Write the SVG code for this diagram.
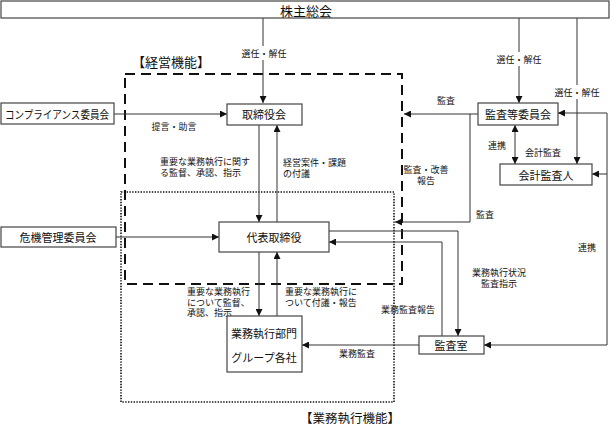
<svg xmlns="http://www.w3.org/2000/svg" width="611" height="426" viewBox="0 0 611 426">
<style>
text{font-family:"Noto Sans CJK JP","Noto Sans",sans-serif;fill:#111;}
.node rect{fill:#fff;stroke:#444;stroke-width:1.2;}
.nt{font-size:11px;text-anchor:middle;dominant-baseline:central;}
.lb{font-size:9px;dominant-baseline:central;}
.c{text-anchor:middle;}
.conn line,.conn polyline{stroke:#333;stroke-width:1;fill:none;}
.arr{marker-end:url(#ah);}
.bg{fill:#fff;stroke:none;}
</style>
<defs>
<marker id="ah" viewBox="0 0 10 10" refX="10" refY="5" markerWidth="7" markerHeight="7" markerUnits="userSpaceOnUse" orient="auto"><path d="M0,0 L10,5 L0,10 z" fill="#111"/></marker>
<marker id="ahs" viewBox="0 0 10 10" refX="10" refY="5" markerWidth="7" markerHeight="7" markerUnits="userSpaceOnUse" orient="auto-start-reverse"><path d="M0,0 L10,5 L0,10 z" fill="#111"/></marker>
</defs>
<rect width="611" height="426" fill="#fff"/>

<!-- function areas -->
<g id="keiei-area">
<rect x="125" y="74" width="277" height="210" fill="none" stroke="#111" stroke-width="2" stroke-dasharray="10 6"/>
<text x="171" y="61" style="font-size:13px;text-anchor:middle;dominant-baseline:central;">【経営機能】</text>
</g>
<g id="gyomu-area">
<rect x="121" y="192" width="273" height="210" fill="none" stroke="#111" stroke-width="1.6" stroke-dasharray="1.4 1.4"/>
<text x="350" y="417" style="font-size:12.5px;text-anchor:middle;dominant-baseline:central;">【業務執行機能】</text>
</g>

<g class="conn" id="connectors">
<line class="arr" x1="263" y1="18" x2="263" y2="103"/>
<line class="arr" x1="519" y1="18" x2="519" y2="103"/>
<line class="arr" x1="577" y1="18" x2="577" y2="164"/>
<line class="arr" x1="114" y1="114" x2="227" y2="114"/>
<line class="arr" x1="116" y1="237" x2="219" y2="237"/>
<line class="arr" x1="259" y1="125" x2="259" y2="222"/>
<line class="arr" x1="277" y1="222" x2="277" y2="125"/>
<line class="arr" x1="259" y1="252" x2="259" y2="316"/>
<line class="arr" x1="277" y1="316" x2="277" y2="252"/>
<line class="arr" x1="478" y1="114" x2="404" y2="114"/>
<polyline class="arr" points="470,114 470,222 395,222"/>
<line x1="515" y1="125" x2="515" y2="164" style="marker-start:url(#ahs);marker-end:url(#ahs)"/>
<polyline class="arr" points="329,231 458,231 458,336"/>
<polyline class="arr" points="442,336 442,242 329,242"/>
<line class="arr" x1="419" y1="345" x2="302" y2="345"/>
<line x1="607" y1="113" x2="607" y2="345"/>
<line class="arr" x1="607" y1="113" x2="558" y2="113"/>
<line class="arr" x1="607" y1="174" x2="592" y2="174"/>
<line class="arr" x1="607" y1="345" x2="484" y2="345"/>

<rect class="bg" x="240" y="46" width="48" height="14"/>
<text class="lb c" x="264" y="53">選任・解任</text>
<rect class="bg" x="495" y="52" width="48" height="14"/>
<text class="lb c" x="519" y="59">選任・解任</text>
<rect class="bg" x="553" y="85" width="48" height="14"/>
<text class="lb c" x="577" y="92">選任・解任</text>
<text class="lb c" x="174" y="126">提言・助言</text>
<text class="lb" x="160" y="161">重要な業務執行に関す<tspan x="160" dy="11">る監督、承認、指示</tspan></text>
<text class="lb" x="283" y="162">経営案件・課題<tspan x="283" dy="11">の付議</tspan></text>
<text class="lb" x="187" y="291">重要な業務執行<tspan x="187" dy="10.5">について監督、</tspan><tspan x="187" dy="10.5">承認、指示</tspan></text>
<text class="lb" x="285" y="291">重要な業務執行に<tspan x="285" dy="10.5">ついて付議・報告</tspan></text>
<text class="lb c" x="446" y="100">監査</text>
<text class="lb c" x="426" y="169">監査・改善<tspan x="426" dy="11">報告</tspan></text>
<text class="lb c" x="485" y="214">監査</text>
<text class="lb c" x="497" y="145">連携</text>
<text class="lb c" x="543" y="152">会計監査</text>
<text class="lb c" x="587" y="247">連携</text>
<text class="lb c" x="499" y="272">業務執行状況<tspan x="499" dy="11">監査指示</tspan></text>
<text class="lb c" x="408" y="309">業務監査報告</text>
<text class="lb c" x="357" y="353">業務監査</text>
</g>

<g class="node" id="kabunushi-sokai">
<rect x="1" y="1" width="608" height="17"/>
<text class="nt" x="306" y="10" style="font-size:13px">株主総会</text>
</g>
<g class="node" id="torishimariyakukai">
<rect x="227" y="104" width="75" height="21"/>
<text class="nt" x="264" y="114">取締役会</text>
</g>
<g class="node" id="compliance">
<rect x="1" y="103" width="113" height="21"/>
<text class="nt" x="57" y="114" textLength="104" lengthAdjust="spacingAndGlyphs">コンプライアンス委員会</text>
</g>
<g class="node" id="kansatou">
<rect x="478" y="103" width="80" height="22"/>
<text class="nt" x="518" y="114">監査等委員会</text>
</g>
<g class="node" id="kaikei-kansanin">
<rect x="500" y="164" width="92" height="21"/>
<text class="nt" x="546" y="175">会計監査人</text>
</g>
<g class="node" id="kiki-kanri">
<rect x="1" y="227" width="115" height="20"/>
<text class="nt" x="58" y="237">危機管理委員会</text>
</g>
<g class="node" id="daihyo">
<rect x="219" y="222" width="110" height="30"/>
<text class="nt" x="274" y="237">代表取締役</text>
</g>
<g class="node" id="gyomu-shikko">
<rect x="227" y="316" width="75" height="56"/>
<text class="nt" x="264" y="333">業務執行部門</text>
<text class="nt" x="264" y="357">グループ各社</text>
</g>
<g class="node" id="kansashitsu">
<rect x="419" y="336" width="65" height="18"/>
<text class="nt" x="451" y="345">監査室</text>
</g>
</svg>
